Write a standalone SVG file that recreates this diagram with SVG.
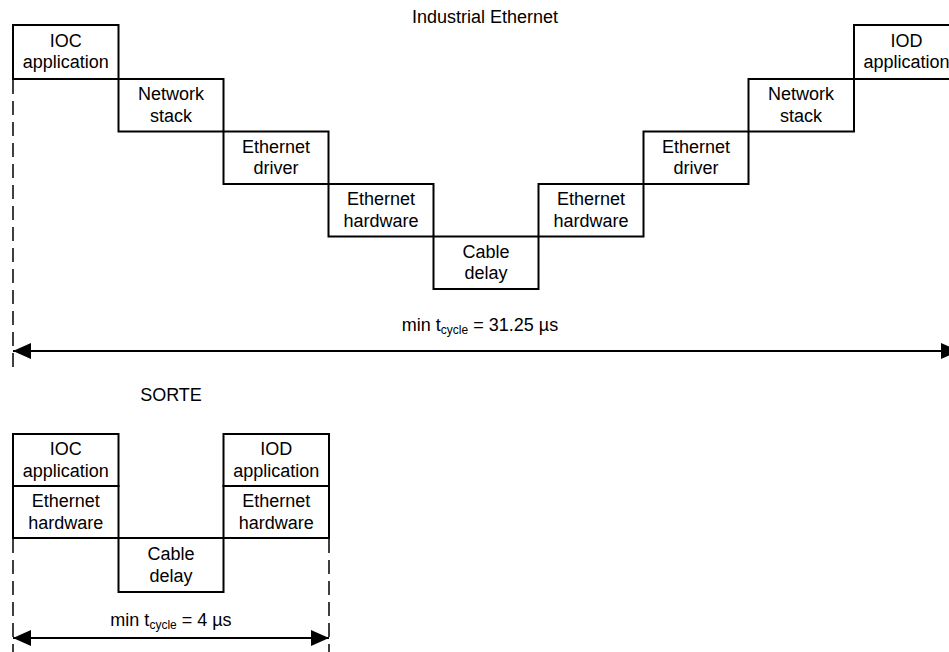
<svg xmlns="http://www.w3.org/2000/svg" width="949" height="652" viewBox="0 0 949 652">
<style>
.box rect{fill:#fff;stroke:#000;stroke-width:2}
text{font-family:"Liberation Sans",Arial,sans-serif;font-size:18px;fill:#000}
.c{text-anchor:middle}
.sub{font-size:12px}
.dash{stroke:#000;stroke-width:1.5;stroke-dasharray:14 7;fill:none}
.arr{stroke:#000;stroke-width:2;fill:none;marker-start:url(#ah);marker-end:url(#ah)}
</style>
<defs>
<marker id="ah" viewBox="0 0 18 16" refX="18" refY="8" markerWidth="18" markerHeight="16" markerUnits="userSpaceOnUse" orient="auto-start-reverse">
<path d="M0,0 L18,8 L0,16 Z" fill="#000"/>
</marker>
</defs>
<text class="c" x="485" y="23">Industrial Ethernet</text>
<g id="ie-ioc-app" class="box"><rect x="13" y="25" width="105.5" height="54"/><text class="c" x="65.8" y="46.5">IOC</text><text class="c" x="65.8" y="68">application</text></g>
<g id="ie-ioc-stack" class="box"><rect x="118.5" y="79" width="105" height="52.5"/><text class="c" x="171" y="100">Network</text><text class="c" x="171" y="121.5">stack</text></g>
<g id="ie-ioc-driver" class="box"><rect x="223.5" y="131.5" width="105" height="52.5"/><text class="c" x="276" y="152.5">Ethernet</text><text class="c" x="276" y="174">driver</text></g>
<g id="ie-ioc-hw" class="box"><rect x="328.5" y="184" width="105" height="52.5"/><text class="c" x="381" y="205">Ethernet</text><text class="c" x="381" y="226.5">hardware</text></g>
<g id="ie-cable" class="box"><rect x="433.5" y="236.5" width="105" height="52.5"/><text class="c" x="486" y="257.5">Cable</text><text class="c" x="486" y="279">delay</text></g>
<g id="ie-iod-hw" class="box"><rect x="538.5" y="184" width="105" height="52.5"/><text class="c" x="591" y="205">Ethernet</text><text class="c" x="591" y="226.5">hardware</text></g>
<g id="ie-iod-driver" class="box"><rect x="643.5" y="131.5" width="105" height="52.5"/><text class="c" x="696" y="152.5">Ethernet</text><text class="c" x="696" y="174">driver</text></g>
<g id="ie-iod-stack" class="box"><rect x="748.5" y="79" width="105.5" height="52.5"/><text class="c" x="801" y="100">Network</text><text class="c" x="801" y="121.5">stack</text></g>
<g id="ie-iod-app" class="box"><rect x="854" y="25" width="105" height="54"/><text class="c" x="906.5" y="46.5">IOD</text><text class="c" x="906.5" y="68">application</text></g>
<g id="connectors">
<line class="dash" x1="13" y1="80" x2="13" y2="370"/>
<line class="dash" x1="959" y1="80" x2="959" y2="370"/>
<line class="arr" x1="13" y1="351" x2="959" y2="351"/>
<line class="dash" x1="13" y1="539" x2="13" y2="652"/>
<line class="dash" x1="329" y1="539" x2="329" y2="652"/>
<line class="arr" x1="13" y1="638" x2="329" y2="638"/>
</g>
<text class="c" x="480" y="331">min t<tspan class="sub" dy="3">cycle</tspan><tspan dy="-3"> = 31.25 µs</tspan></text>
<text class="c" x="171" y="401">SORTE</text>
<g id="s-ioc-app" class="box"><rect x="13" y="434" width="105.5" height="52"/><text class="c" x="65.8" y="455">IOC</text><text class="c" x="65.8" y="477">application</text></g>
<g id="s-ioc-hw" class="box"><rect x="13" y="486" width="105.5" height="52"/><text class="c" x="65.8" y="507">Ethernet</text><text class="c" x="65.8" y="529">hardware</text></g>
<g id="s-cable" class="box"><rect x="118.5" y="538" width="105" height="54"/><text class="c" x="171" y="560">Cable</text><text class="c" x="171" y="582">delay</text></g>
<g id="s-iod-app" class="box"><rect x="223.5" y="434" width="105.5" height="52"/><text class="c" x="276.3" y="455">IOD</text><text class="c" x="276.3" y="477">application</text></g>
<g id="s-iod-hw" class="box"><rect x="223.5" y="486" width="105.5" height="52"/><text class="c" x="276.3" y="507">Ethernet</text><text class="c" x="276.3" y="529">hardware</text></g>
<text class="c" x="171" y="626">min t<tspan class="sub" dy="3">cycle</tspan><tspan dy="-3"> = 4 µs</tspan></text>
</svg>
